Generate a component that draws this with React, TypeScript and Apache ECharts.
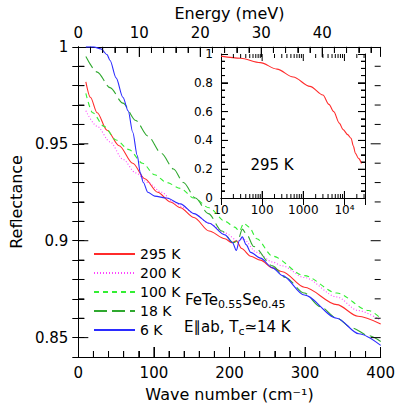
import React, { useEffect, useRef } from "react";
import * as echarts from "echarts";

// ---------- data ----------
const seriesNames = ["295 K", "200 K", "100 K", "18 K", "6 K"];
const seriesColors = ["#ff2b2b", "#ff44ff", "#33ee33", "#2fa82f", "#2b2bff"];

const r295K: [number, number][] = [
  [10, 0.982], [16, 0.974], [25, 0.966], [38, 0.957], [54, 0.949], [72, 0.94],
  [88, 0.932], [105, 0.925], [122, 0.92], [135, 0.917], [153, 0.912], [173, 0.905],
  [194, 0.901], [203, 0.899], [209, 0.9], [216, 0.896], [228, 0.892], [241, 0.89],
  [257, 0.886], [270, 0.884], [299, 0.876], [342, 0.867], [370, 0.861], [400, 0.857],
];
const r200K: [number, number][] = [
  [10, 0.967], [25, 0.959], [42, 0.951], [59, 0.942], [76, 0.935], [92, 0.93],
  [110, 0.925], [126, 0.92], [140, 0.917], [153, 0.914], [173, 0.909], [194, 0.904],
  [211, 0.9], [218, 0.901], [236, 0.894], [257, 0.889], [270, 0.887], [299, 0.881],
  [342, 0.871], [370, 0.864], [400, 0.859],
];
const r100K: [number, number][] = [
  [10, 0.976], [19, 0.966], [34, 0.959], [50, 0.952], [67, 0.947], [85, 0.94],
  [101, 0.934], [117, 0.93], [135, 0.927], [153, 0.922], [173, 0.917], [194, 0.91],
  [207, 0.907], [213, 0.905], [219, 0.909], [226, 0.907], [236, 0.901], [257, 0.892],
  [299, 0.882], [342, 0.873], [384, 0.864], [400, 0.86],
];
const r18K: [number, number][] = [
  [10, 0.995], [25, 0.987], [42, 0.979], [59, 0.971], [76, 0.962], [92, 0.954],
  [110, 0.945], [126, 0.937], [139, 0.93], [155, 0.922], [172, 0.914], [190, 0.905],
  [205, 0.899], [211, 0.9], [217, 0.906], [223, 0.903], [232, 0.897], [257, 0.887],
  [274, 0.881], [299, 0.873], [320, 0.866], [342, 0.86], [362, 0.855], [384, 0.851],
  [400, 0.848],
];
const r6K: [number, number][] = [
  [10, 1.0], [20, 1.0], [30, 0.999], [38, 0.996], [42, 0.993], [50, 0.984],
  [59, 0.974], [66, 0.967], [72, 0.956], [78, 0.944], [82, 0.935], [86, 0.93],
  [92, 0.925], [101, 0.923], [117, 0.922], [135, 0.919], [153, 0.914], [173, 0.909],
  [194, 0.903], [204, 0.899], [209, 0.895], [213, 0.9], [217, 0.902], [222, 0.898],
  [228, 0.894], [241, 0.891], [257, 0.886], [270, 0.882], [299, 0.872], [342, 0.86],
  [371, 0.852], [400, 0.846],
];
const seriesData = [r295K, r200K, r100K, r18K, r6K];
const seriesDash: any[] = ["solid", [1, 2], [5, 4], [13, 5], "solid"];

// inset: 295 K over a wide range (log wave number)
const inset295K: [number, number][] = [
  [10, 0.985], [30, 0.97], [90, 0.94], [230, 0.895], [570, 0.84], [1450, 0.775],
  [3000, 0.715], [4200, 0.65], [5500, 0.6], [7500, 0.52], [9300, 0.475],
  [12000, 0.44], [14500, 0.415], [16500, 0.36], [18500, 0.31], [22000, 0.275],
  [26000, 0.24],
];

// tick positions
const waveMajorTicks = [100, 200, 300];
const waveMinorTicks = [20, 40, 60, 80, 120, 140, 160, 180, 220, 240, 260, 280, 320, 340, 360, 380];
const energyMajorTicks = [10, 20, 30, 40];
const energyMinorTicks = [2, 4, 6, 8, 12, 14, 16, 18, 22, 24, 26, 28, 32, 34, 36, 38, 42, 44, 46, 48];
const reflMajorTicks = [0.85, 0.9, 0.95];
const reflMinorTicks = [0.86, 0.87, 0.88, 0.89, 0.91, 0.92, 0.93, 0.94, 0.96, 0.97, 0.98, 0.99];
const insetLogMajorTicks = [100, 1000, 10000];
const insetLogMinorTicks = [
  20, 30, 40, 50, 60, 70, 80, 90, 200, 300, 400, 500, 600, 700, 800, 900,
  2000, 3000, 4000, 5000, 6000, 7000, 8000, 9000, 20000, 30000,
];
const insetYMajorTicks = [0.2, 0.4, 0.6, 0.8];
const insetYMinorTicks = [0.05, 0.1, 0.15, 0.25, 0.3, 0.35, 0.45, 0.5, 0.55, 0.65, 0.7, 0.75, 0.85, 0.9, 0.95];
const cmPerMeV = 8.0655;

const FONT = "DejaVu Sans";
const BLACK = "#000";

const seg = (x1: number, y1: number, x2: number, y2: number) => ({
  type: "line",
  shape: { x1, y1, x2, y2 },
  style: { stroke: BLACK, lineWidth: 1 },
});

export default function App() {
  const ref = useRef<HTMLDivElement>(null);

  useEffect(() => {
    const chart = echarts.init(ref.current!, null, { renderer: "svg" });

    const axisLine = { show: true, lineStyle: { color: BLACK, width: 1 } };
    const tickLine = { color: BLACK, width: 1 };

    const lineSeries = seriesNames.map((name, i) => ({
      name, type: "line", xAxisIndex: 0, yAxisIndex: 0, data: seriesData[i],
      symbol: "none", showSymbol: false, smooth: 0.3, smoothMonotone: "x",
      lineStyle: { color: seriesColors[i], width: 1.1, type: seriesDash[i] },
      itemStyle: { color: seriesColors[i] }, z: 3,
    }));

    // tick series (drawn through the axes' own scales)
    const tickSeries = (xAxisIndex: number, yAxisIndex: number, data: number[][], draw: (api: any) => any) => ({
      type: "custom", xAxisIndex, yAxisIndex, clip: false, z: 8, data,
      renderItem: (_p: any, api: any) => draw(api),
    });

    const mainXTicks = [
      ...waveMajorTicks.map((x) => [x, 0.84, 10]),
      ...waveMinorTicks.map((x) => [x, 0.84, 6]),
    ];
    const mainTopTicks = [
      ...energyMajorTicks.map((e) => [e * cmPerMeV, 1, 10]),
      ...energyMinorTicks.map((e) => [e * cmPerMeV, 1, 6]),
    ];
    const mainYTicks = [
      ...reflMajorTicks.map((v) => [0, v, 10]),
      ...reflMinorTicks.map((v) => [0, v, 6]),
    ];
    const insetXTicks = [
      ...insetLogMajorTicks.map((x) => [x, 0, 7]),
      ...insetLogMinorTicks.map((x) => [x, 0, 4]),
    ];
    const insetYTicks = [
      ...insetYMajorTicks.map((v) => [10, v, 7]),
      ...insetYMinorTicks.map((v) => [10, v, 4]),
    ];

    const option: any = {
      animation: false,
      backgroundColor: "#fff",
      textStyle: { fontFamily: FONT, color: BLACK },
      grid: [
        { left: 66, top: 42, width: 317, height: 317, show: false },
        { left: 221, top: 54, width: 144, height: 144, show: true, backgroundColor: "#fff", borderWidth: 0 },
      ],
      xAxis: [
        {
          type: "value", gridIndex: 0, position: "bottom", min: 0, max: 400, interval: 100,
          axisLine, splitLine: { show: false },
          axisTick: { show: true, inside: true, length: 10, lineStyle: tickLine },
          minorTick: { show: true, splitNumber: 5, length: 6, lineStyle: tickLine },
          axisLabel: { fontSize: 15, color: BLACK, margin: 8, fontFamily: FONT },
          name: "Wave number (cm\u207B\u00B9)", nameLocation: "middle", nameGap: 29,
          nameTextStyle: { fontSize: 16, color: BLACK, fontFamily: FONT },
        },
        {
          type: "value", gridIndex: 0, position: "top", min: 0, max: 400 / cmPerMeV, interval: 10,
          axisLine, splitLine: { show: false },
          axisTick: { show: true, inside: true, length: 10, lineStyle: tickLine },
          minorTick: { show: true, splitNumber: 5, length: 6, lineStyle: tickLine },
          axisLabel: {
            fontSize: 15, color: BLACK, margin: 6, fontFamily: FONT, showMaxLabel: false,
            formatter: (v: number) => {
              const r = Math.round(v);
              return Math.abs(v - r) < 1e-6 && r % 10 === 0 ? String(r) : "";
            },
          },
          name: "Energy (meV)", nameLocation: "middle", nameGap: 25,
          nameTextStyle: { fontSize: 16, color: BLACK, fontFamily: FONT },
        },
        {
          type: "log", gridIndex: 1, position: "bottom", min: 10, max: 31623, logBase: 10,
          axisLine, splitLine: { show: false },
          axisTick: { show: true, inside: true, length: 7, lineStyle: tickLine },
          axisLabel: {
            fontSize: 12, color: BLACK, margin: 6, fontFamily: FONT, showMaxLabel: false,
            formatter: (v: number) => {
              const e = Math.log10(v);
              const r = Math.round(e);
              if (Math.abs(e - r) > 1e-6) return "";
              return r === 4 ? "10\u2074" : String(Math.pow(10, r));
            },
          },
        },
        {
          type: "log", gridIndex: 1, position: "top", min: 10, max: 31623, logBase: 10,
          axisLine, splitLine: { show: false },
          axisTick: { show: true, inside: true, length: 7, lineStyle: tickLine },
          axisLabel: { show: false },
        },
      ],
      yAxis: [
        {
          type: "value", gridIndex: 0, position: "left", min: 0.84, max: 1, interval: 0.01,
          axisLine, splitLine: { show: false },
          axisTick: { show: true, inside: true, length: 6, lineStyle: tickLine },
          axisLabel: {
            fontSize: 15, color: BLACK, margin: 10, fontFamily: FONT,
            formatter: (v: number) => {
              const r = Math.round(v * 100);
              return r % 5 === 0 && r >= 85 ? String(r / 100) : "";
            },
          },
          name: "Reflectance", nameLocation: "middle", nameGap: 49,
          nameTextStyle: { fontSize: 16, color: BLACK, fontFamily: FONT },
        },
        {
          type: "value", gridIndex: 0, position: "right", min: 0.84, max: 1, interval: 0.01,
          axisLine, splitLine: { show: false },
          axisTick: { show: true, inside: true, length: 6, lineStyle: tickLine },
          axisLabel: { show: false },
        },
        {
          type: "value", gridIndex: 1, position: "left", min: 0, max: 1, interval: 0.2,
          axisLine, splitLine: { show: false },
          axisTick: { show: true, inside: true, length: 7, lineStyle: tickLine },
          minorTick: { show: true, splitNumber: 4, length: 4, lineStyle: tickLine },
          axisLabel: { fontSize: 12, color: BLACK, margin: 8, fontFamily: FONT },
        },
        {
          type: "value", gridIndex: 1, position: "right", min: 0, max: 1, interval: 0.2,
          axisLine, splitLine: { show: false },
          axisTick: { show: true, inside: true, length: 7, lineStyle: tickLine },
          minorTick: { show: true, splitNumber: 4, length: 4, lineStyle: tickLine },
          axisLabel: { show: false },
        },
      ],
      legend: {
        data: seriesNames, orient: "vertical", left: 88, top: 242,
        itemWidth: 41, itemHeight: 14, itemGap: 5, selectedMode: false,
        itemStyle: { opacity: 0 },
        textStyle: { fontSize: 14, color: BLACK, fontFamily: FONT },
      },
      graphic: [
        {
          type: "text", x: 185, y: 292, z: 10,
          style: {
            text: "{n|FeTe}{s|0.55}{n|Se}{s|0.45}", align: "left", verticalAlign: "top",
            rich: {
              n: { fontSize: 15, fontFamily: FONT, fill: BLACK, lineHeight: 18, verticalAlign: "top" },
              s: { fontSize: 11, fontFamily: FONT, fill: BLACK, lineHeight: 12, padding: [12, 0, 0, 0], verticalAlign: "bottom" },
            },
          },
        },
        {
          type: "text", x: 184, y: 319, z: 10,
          style: {
            text: "{n|E\u2225ab, T}{s|c}{n|\u224314 K}", align: "left", verticalAlign: "top",
            rich: {
              n: { fontSize: 15, fontFamily: FONT, fill: BLACK, lineHeight: 18, verticalAlign: "top" },
              s: { fontSize: 11, fontFamily: FONT, fill: BLACK, lineHeight: 12, padding: [10, 0, 0, 0], verticalAlign: "bottom" },
            },
          },
        },
        {
          type: "text", x: 272, y: 165, z: 10,
          style: { text: "295 K", fontSize: 15, fontFamily: FONT, fill: BLACK, align: "center", verticalAlign: "middle" },
        },
      ],
      series: [
        ...lineSeries,
        {
          name: "inset 295 K", type: "line", xAxisIndex: 2, yAxisIndex: 2, data: inset295K,
          symbol: "none", showSymbol: false, smooth: 0.3, smoothMonotone: "x",
          lineStyle: { color: seriesColors[0], width: 1.1 }, z: 6,
        },
        // main bottom ticks (drawn toward the axis line)
        tickSeries(0, 0, mainXTicks, (api) => {
          const p = api.coord([api.value(0), 0.84]);
          return seg(p[0], p[1] - api.value(2), p[0], p[1]);
        }),
        // main top (energy) ticks
        tickSeries(0, 0, mainTopTicks, (api) => {
          const p = api.coord([api.value(0), 1]);
          return seg(p[0], p[1] + api.value(2), p[0], p[1]);
        }),
        // main left and right ticks
        tickSeries(0, 0, mainYTicks, (api) => {
          const len = api.value(2);
          const a = api.coord([0, api.value(1)]);
          const b = api.coord([400, api.value(1)]);
          return {
            type: "group",
            children: [seg(a[0] + len, a[1], a[0], a[1]), seg(b[0] - len, b[1], b[0], b[1])],
          };
        }),
        // inset log ticks, bottom and top
        tickSeries(2, 2, insetXTicks, (api) => {
          const len = api.value(2);
          const a = api.coord([api.value(0), 0]);
          const b = api.coord([api.value(0), 1]);
          return {
            type: "group",
            children: [seg(a[0], a[1] - len, a[0], a[1]), seg(b[0], b[1] + len, b[0], b[1])],
          };
        }),
        // inset left and right ticks
        tickSeries(2, 2, insetYTicks, (api) => {
          const len = api.value(2);
          const a = api.coord([10, api.value(1)]);
          const b = api.coord([31623, api.value(1)]);
          return {
            type: "group",
            children: [seg(a[0] + len, a[1], a[0], a[1]), seg(b[0] - len, b[1], b[0], b[1])],
          };
        }),
      ],
    };

    chart.setOption(option);
    return () => chart.dispose();
  }, []);

  return (
    <div ref={ref} style={{ position: "fixed", left: 0, top: 0, width: 398, height: 407, background: "#fff" }} />
  );
}
